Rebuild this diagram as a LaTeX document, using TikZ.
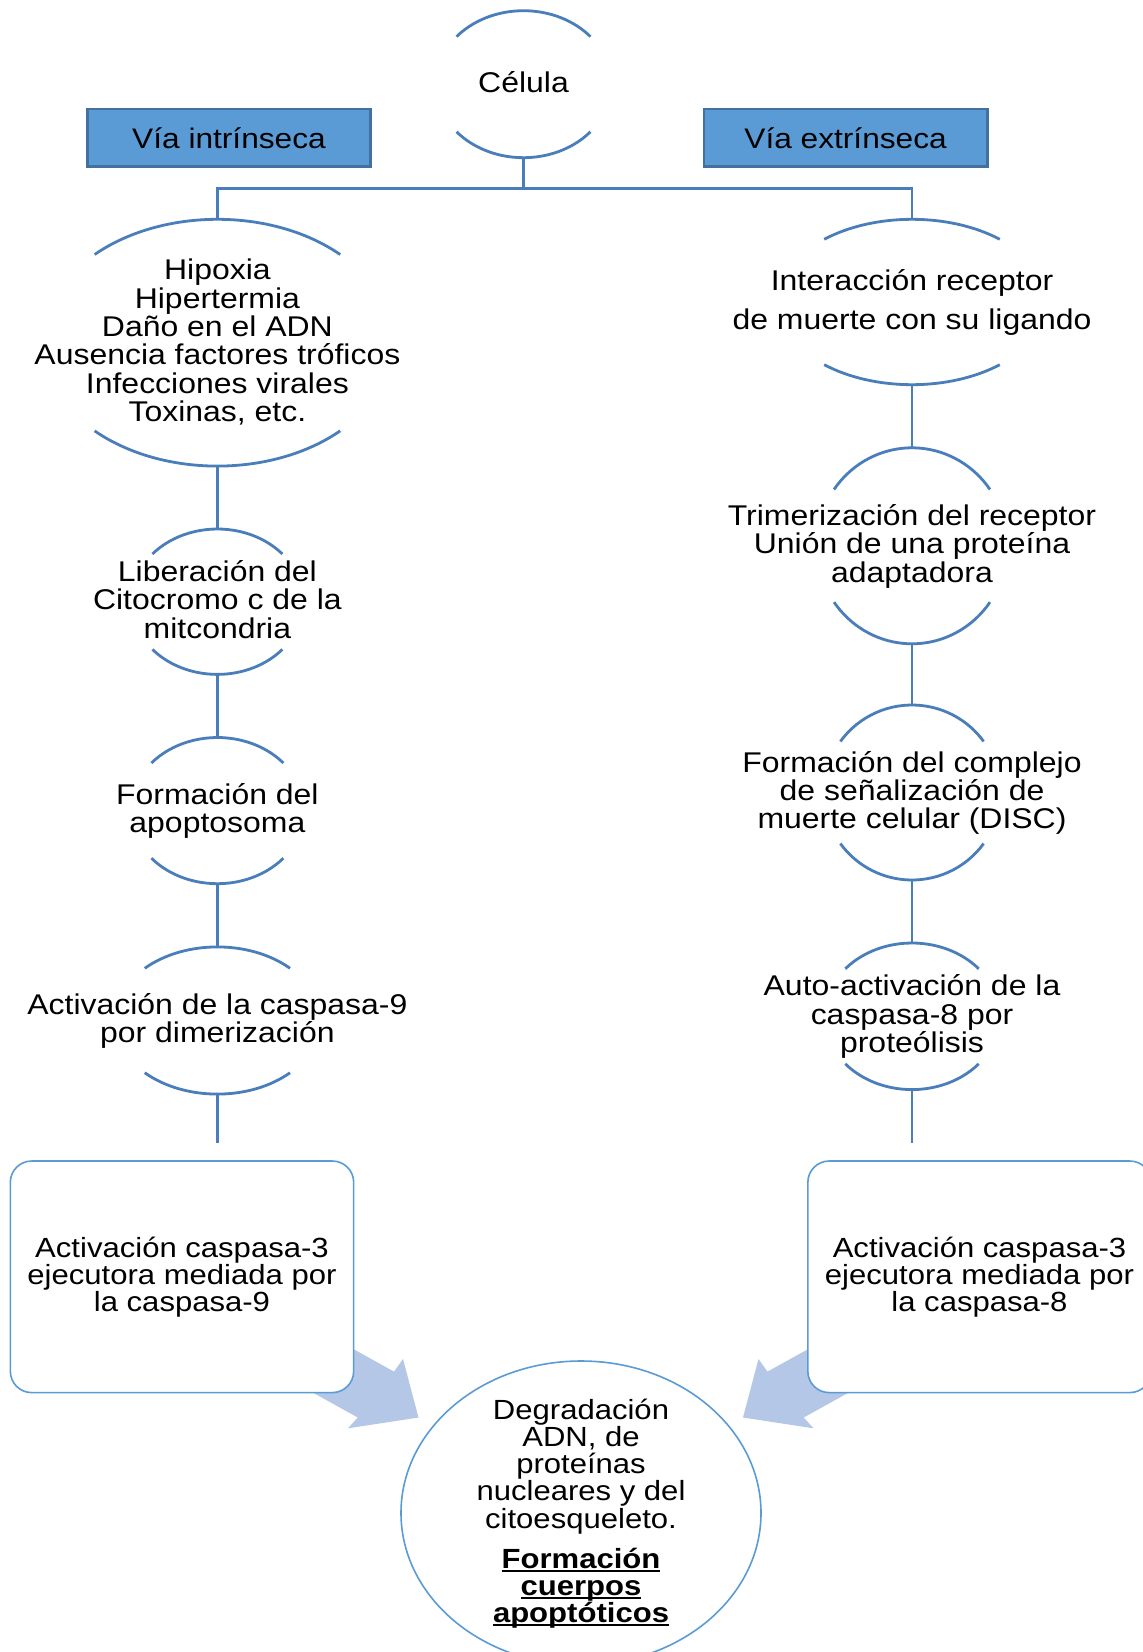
\documentclass[tikz,border=0pt]{standalone}
\usepackage{fontspec}
\setmainfont{Liberation Sans}[FakeStretch=1.12]
\usetikzlibrary{shapes.geometric}
\definecolor{lineblue}{HTML}{4A7EBB}
\definecolor{boxfill}{HTML}{5B9BD5}
\definecolor{boxedge}{HTML}{41719C}
\definecolor{arrowfill}{HTML}{B4C7E7}
\definecolor{outlineblue}{HTML}{5B9BD5}
\newcommand\sst{\rule[-10.5pt]{0pt}{33pt}}
\newcommand\sstv{\rule[-6pt]{0pt}{28.5pt}}
\newcommand\ulbox[1]{{\setbox0=\hbox{#1}\rlap{\rule[-3pt]{\wd0}{1.5pt}}\box0}}
\newcommand\fbody{\fontsize{21.4pt}{21.3pt}\selectfont\lineskiplimit=-100pt\relax}
\newcommand\fvia{\fontsize{21.2pt}{21.3pt}\selectfont}
\newcommand\fwide{\fontsize{21.4pt}{29.25pt}\selectfont\lineskiplimit=-100pt\relax}
\newcommand\fbot{\fontsize{20.8pt}{20.3pt}\selectfont\lineskiplimit=-100pt\relax}
\newcommand\halfarcs[4]{%
  \pgfmathsetmacro\hatop{180+#4}%
  \pgfmathsetmacro\hatopend{360-#4}%
  \pgfmathsetmacro\habotend{180-#4}%
  \draw[arcl] ([shift={(#1.center)}]\hatop:#2 and #3) arc[start angle=\hatop, end angle=\hatopend, x radius=#2, y radius=#3];
  \draw[arcl] ([shift={(#1.center)}]#4:#2 and #3) arc[start angle=#4, end angle=\habotend, x radius=#2, y radius=#3];}
\tikzset{
  conn/.style={draw=lineblue, line width=2.1pt},
  arcl/.style={draw=lineblue, line width=2.1pt},
  stepnode/.style={align=center, inner sep=0pt, font=\fbody, text=black},
  viabox/.style={draw=boxedge, fill=boxfill, line width=1.9pt, minimum width=212.6pt, minimum height=43.1pt, inner sep=0pt, font=\fvia, text=black},
  casbox/.style={draw=outlineblue, fill=white, line width=1.2pt, rounded corners=16pt, minimum width=257.5pt, minimum height=173.7pt, align=center, inner sep=0pt, font=\fbot, text=black},
  endnode/.style={ellipse, draw=outlineblue, fill=white, line width=1.2pt, minimum width=270pt, minimum height=228pt, inner sep=0pt},
  bigarrow/.style={fill=arrowfill, draw=none}
}
\begin{document}
\begin{tikzpicture}[x=0.75pt, y=-0.75pt]
\fill[white] (0,0) rectangle (1142,1652);
\useasboundingbox (0,0) rectangle (1142,1652);

% block arrows (behind boxes)
\fill[bigarrow] (289,1313.4) -- (394,1371.6) -- (403,1359) -- (418.5,1417.5) -- (348,1428.3) -- (357.8,1417.5) -- (252.8,1359.3) -- cycle;
\fill[bigarrow] (872.5,1313.4) -- (767.5,1371.6) -- (758.5,1359) -- (743,1417.5) -- (813.5,1428.3) -- (803.7,1417.5) -- (908.7,1359.3) -- cycle;

% header boxes
\node[viabox] (vint) at (229,137.8) {\sstv V\'{\i}a intr\'{\i}nseca};
\node[viabox] (vext) at (845.6,137.8) {\sstv V\'{\i}a extr\'{\i}nseca};

% half-circle step nodes
\node[stepnode, minimum height=110.25pt] (cel) at (523.5,84.2) {\sst Célula\sst};
\node[stepnode, minimum height=185.1pt] (n1) at (217.4,342.7) {\sst Hipoxia\\Hipertermia\\Daño en el ADN\\Ausencia factores tróficos\\Infecciones virales\\Toxinas, etc.\sst};
\node[stepnode, minimum height=109.05pt] (n2) at (217.4,601.7) {\sst Liberación del\\Citocromo c de la\\mitcondria\sst};
\node[stepnode, minimum height=109.65pt] (n3) at (217.4,810.6) {\sst Formación del\\apoptosoma\sst};
\node[stepnode, minimum height=110.4pt] (n4) at (217.4,1020.5) {\sst Activación de la caspasa-9\\por dimerización\sst};
\node[stepnode, font=\fwide, minimum height=124.05pt] (r1) at (912,302) {\sst Interacción receptor\\de muerte con su ligando\sst};
\node[stepnode, minimum height=147pt] (r2) at (912,545.8) {\sst Trimerización del receptor\\Unión de una proteína\\adaptadora\sst};
\node[stepnode, minimum height=131.25pt] (r3) at (912,792.5) {\sst Formación del complejo\\de señalización de\\muerte celular (DISC)\sst};
\node[stepnode, minimum height=109.95pt] (r4) at (912,1016.3) {\sst Auto-activación de la\\caspasa-8 por\\proteólisis\sst};

\halfarcs{cel}{87.8}{73.5}{40.3}
\halfarcs{n1}{175.5}{123.4}{45.6}
\halfarcs{n2}{86.1}{72.7}{41}
\halfarcs{n3}{86.9}{73.1}{40.6}
\halfarcs{n4}{103.1}{73.6}{45.2}
\halfarcs{r1}{134.6}{82.7}{49.3}
\halfarcs{r2}{95.3}{98}{35.1}
\halfarcs{r3}{88.2}{87.5}{35.7}
\halfarcs{r4}{87.6}{73.3}{40.4}

% connectors
\coordinate (jn) at (523.5,188.7);
\coordinate (lend) at (217.4,1142.7);
\coordinate (rend) at (912,1142.7);
\draw[conn] (cel.south) -- (jn);
\draw[conn] (jn) -| (n1.north);
\draw[conn] (jn) -| (r1.north);
\draw[conn] (n1.south) -- (n2.north);
\draw[conn] (n2.south) -- (n3.north);
\draw[conn] (n3.south) -- (n4.north);
\draw[conn] (n4.south) -- (lend);
\draw[conn] (r1.south) -- (r2.north);
\draw[conn] (r2.south) -- (r3.north);
\draw[conn] (r3.south) -- (r4.north);
\draw[conn] (r4.south) -- (rend);

% executor boxes
\node[casbox] (lbox) at (182,1276.8) {\sst Activación caspasa-3\\ejecutora mediada por\\la caspasa-9\sst};
\node[casbox] (rbox) at (979.5,1276.8) {\sst Activación caspasa-3\\ejecutora mediada por\\la caspasa-8\sst};

% final node
\node[endnode] (deg) at (581,1513) {};
\node[align=center, inner sep=0pt, font=\fbot, text=black] (degtxt) at (deg.center) {\sst Degradación\\ADN, de\\proteínas\\nucleares y del\\citoesqueleto.\\[9.75pt]\textbf{\ulbox{Formación}}\\\textbf{\ulbox{cuerpos}}\\\textbf{\ulbox{apoptóticos}}\sst};
\end{tikzpicture}
\end{document}
